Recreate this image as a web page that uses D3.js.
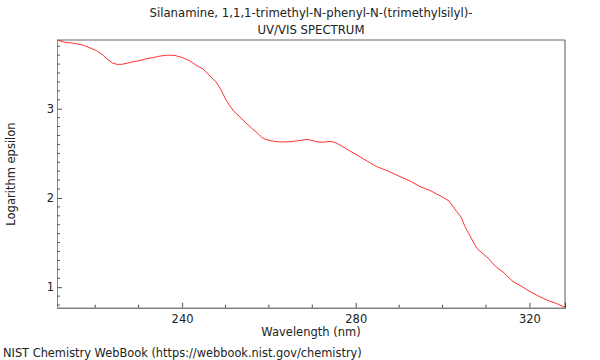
<!DOCTYPE html>
<html><head><meta charset="utf-8">
<script src="https://cdn.jsdelivr.net/npm/d3@7"></script>
<style>body{margin:0;background:#fff}svg{display:block}text{font-family:"DejaVu Sans",sans-serif;fill:#222}</style>
</head><body><svg id="c" width="600" height="360"></svg>
<script>
const wavelength = [211.21,213.06,215.36,217.2,220.36,221.81,222.7,223.97,225.03,226.18,227.33,228.72,230.33,231.94,233.32,234.93,236.78,238.39,240.23,241.84,243.22,244.84,246.45,247.83,248.75,249.33,250.13,251.05,251.97,253.36,254.74,256.12,257.5,258.42,259.34,260.73,262.57,264.87,267.17,268.72,269.94,271.32,272.7,274.08,275.23,276.38,278.23,280.3,282.37,284.84,287.44,290.2,292.5,294.81,297.11,299.8,301.48,303.26,304.25,305.17,306.32,307.86,309.08,310.54,311.62,312.77,313.92,315.07,316.22,317.83,320.14,322.21,324.28,326.12,328.2];
const logEps = [3.769,3.744,3.732,3.713,3.65,3.601,3.557,3.512,3.497,3.498,3.51,3.526,3.54,3.562,3.573,3.59,3.601,3.596,3.571,3.534,3.489,3.445,3.366,3.299,3.231,3.176,3.097,3.03,2.969,2.907,2.84,2.778,2.722,2.677,2.655,2.638,2.627,2.63,2.644,2.657,2.644,2.627,2.625,2.635,2.621,2.594,2.538,2.482,2.42,2.351,2.302,2.239,2.19,2.127,2.084,2.015,1.966,1.847,1.787,1.679,1.574,1.437,1.384,1.325,1.261,1.211,1.171,1.115,1.063,1.02,0.951,0.897,0.85,0.819,0.774];
const xMajor = [240,280,320];
const xMinor = [220,230,250,260,270,290,300,310];
const yMajor = [1,2,3];
const titleLines = ["Silanamine, 1,1,1-trimethyl-N-phenyl-N-(trimethylsilyl)-","UV/VIS SPECTRUM"];
const xLabel = "Wavelength (nm)", yLabel = "Logarithm epsilon";
const footer = "NIST Chemistry WebBook (https://webbook.nist.gov/chemistry)";

const L=57,R=565,T=40,B=307.7;
const svg=d3.select("#c");
const x=d3.scaleLinear().domain([211.2,328.2]).range([L,R]);
const y=d3.scaleLinear().domain([0.77,3.77]).range([B,T]);
const yMinor=d3.range(8,38).map(d=>d/10).filter(v=>v>=0.77&&v<=3.77&&!yMajor.includes(v));

// frame
svg.append("line").attr("x1",L).attr("x2",R).attr("y1",T).attr("y2",T).attr("stroke","#9a9a9a").attr("stroke-width",1.5);
svg.append("line").attr("x1",R).attr("x2",R).attr("y1",T).attr("y2",B).attr("stroke","#555").attr("stroke-width",1);
// axes
const gx=svg.append("g").attr("transform",`translate(0,${B})`);
gx.call(d3.axisBottom(x).tickValues(xMajor).tickSize(-5).tickPadding(8).tickFormat(d3.format("d")));
gx.select(".domain").attr("stroke","#444");
gx.selectAll(".tick line").attr("stroke","#777").attr("stroke-width",1.3);
gx.selectAll(".tick text").attr("font-size",11.5).attr("dy","0.71em").attr("y",7);
gx.selectAll(".minor").data(xMinor).join("line").attr("x1",d=>x(d)).attr("x2",d=>x(d)).attr("y1",0).attr("y2",-3).attr("stroke","#444");
const gy=svg.append("g").attr("transform",`translate(${L},0)`);
gy.call(d3.axisLeft(y).tickValues(yMajor).tickSize(-5).tickPadding(8).tickFormat(d3.format("d")));
gy.select(".domain").attr("stroke","#888");
gy.selectAll(".tick line").attr("stroke","#555");
gy.selectAll(".tick text").attr("font-size",11.5).attr("x",-3);
gy.selectAll(".minor").data(yMinor).join("line").attr("y1",d=>y(d)).attr("y2",d=>y(d)).attr("x1",0).attr("x2",3).attr("stroke","#555");
svg.selectAll(".tick text").style("font-family","'DejaVu Sans',sans-serif").attr("fill","#222");

// curve
const pts=wavelength.map((w,i)=>[w,logEps[i]]);
svg.append("path").datum(pts).attr("fill","none").attr("stroke","#ff3333").attr("stroke-width",1)
 .attr("d",d3.line().x(d=>x(d[0])).y(d=>y(d[1])));

// texts
svg.selectAll(".title").data(titleLines).join("text").attr("x",311).attr("y",(d,i)=>17+i*17).attr("text-anchor","middle").attr("font-size",11.7).text(d=>d);
svg.append("text").attr("x",311).attr("y",336).attr("text-anchor","middle").attr("font-size",11.5).text(xLabel);
svg.append("text").attr("transform","translate(15,174) rotate(-90)").attr("text-anchor","middle").attr("font-size",11.5).text(yLabel);
svg.append("text").attr("x",3).attr("y",357).attr("font-size",11.4).text(footer);
</script></body></html>
